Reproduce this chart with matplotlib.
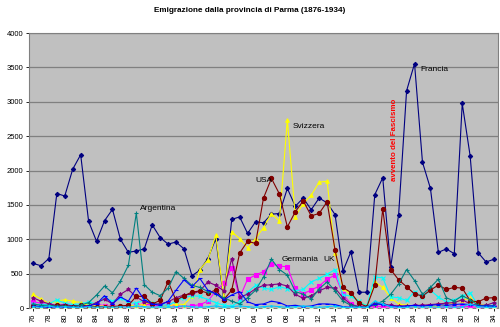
import matplotlib
matplotlib.use("Agg")
import matplotlib.pyplot as plt
import numpy as np

plt.rcParams['font.family'] = ['Liberation Sans', 'DejaVu Sans']

years = list(range(1876, 1935))

francia = [650, 615, 720, 1665, 1630, 2020, 2230, 1260, 970, 1270, 1435, 1000, 810, 830, 860,
           1210, 1025, 930, 960, 860, 470, 550, 720, 1010, 120, 1290, 1325, 1085, 1255, 1240,
           1365, 1375, 1740, 1480, 1600, 1430, 1600, 1530, 1360, 540, 820, 230, 230, 1650, 1895,
           600, 1360, 3160, 3555, 2120, 1740, 810, 860, 790, 2975, 2210, 805, 670, 710]
germania = [90, 70, 40, 30, 50, 30, 40, 20, 60, 30, 30, 20, 30, 40, 60,
            40, 30, 40, 30, 20, 30, 50, 100, 250, 360, 580, 150, 420, 480, 530,
            640, 610, 600, 290, 210, 260, 320, 420, 480, 200, 60, 20, 10, 30, 20,
            20, 10, 10, 20, 20, 30, 10, 20, 20, 30, 20, 10, 10, 10]
svizzera = [200, 130, 70, 100, 120, 100, 80, 40, 30, 30, 20, 30, 40, 30, 60,
            80, 40, 20, 60, 50, 170, 560, 700, 1060, 160, 1110, 1010, 880, 1010, 1170,
            1375, 1265, 2740, 1330, 1520, 1640, 1830, 1845, 800, 290, 190, 100, 30, 380, 300,
            150, 60, 40, 30, 40, 20, 30, 60, 80, 120, 140, 50, 40, 30]
uk = [60, 40, 60, 120, 70, 50, 60, 90, 60, 140, 100, 150, 80, 70, 120,
      80, 50, 40, 100, 150, 180, 170, 120, 80, 40, 30, 100, 230, 330, 290,
      270, 310, 280, 250, 270, 380, 430, 490, 560, 190, 175, 100, 30, 450, 440,
      160, 150, 110, 240, 160, 260, 160, 90, 120, 170, 220, 40, 30, 40]
belgio = [150, 100, 60, 40, 50, 30, 40, 30, 80, 130, 60, 200, 270, 160, 90,
          60, 60, 90, 150, 190, 200, 250, 380, 330, 250, 720, 160, 200, 280, 330,
          340, 350, 320, 200, 140, 180, 250, 300, 290, 150, 50, 20, 10, 80, 60,
          40, 30, 30, 40, 40, 50, 60, 70, 80, 120, 60, 40, 40, 80]
usa = [30, 20, 20, 40, 30, 20, 40, 20, 20, 20, 20, 30, 40, 170, 170,
       60, 110, 385, 110, 180, 230, 250, 220, 260, 120, 260, 800, 970, 940, 1600,
       1885, 1660, 1180, 1400, 1560, 1340, 1376, 1545, 843, 300, 225, 70, 20, 335, 1440,
       560, 410, 310, 205, 175, 260, 335, 270, 300, 290, 105, 90, 145, 150]
argentina = [60, 40, 40, 30, 30, 20, 40, 80, 190, 320, 220, 390, 620, 1380, 340,
             230, 180, 290, 530, 430, 330, 300, 240, 210, 150, 100, 60, 150, 260, 450,
             710, 560, 480, 240, 200, 130, 280, 380, 250, 100, 40, 20, 10, 50, 100,
             200, 350, 560, 400, 200, 300, 420, 150, 100, 180, 120, 40, 30, 30]
brasile = [30, 20, 10, 20, 10, 10, 10, 30, 60, 180, 60, 160, 100, 290, 120,
           60, 40, 100, 260, 410, 310, 430, 260, 210, 120, 190, 240, 90, 50, 60,
           100, 80, 30, 40, 20, 30, 60, 60, 50, 20, 10, 10, 10, 60, 50,
           30, 20, 30, 40, 30, 40, 50, 40, 50, 60, 50, 30, 30, 30]
altri1 = [20, 10, 30, 10, 20, 10, 10, 20, 10, 20, 10, 20, 10, 30, 20,
          10, 20, 10, 20, 30, 20, 10, 20, 30, 10, 20, 30, 20, 10, 20,
          30, 20, 10, 20, 30, 20, 10, 20, 30, 10, 10, 10, 10, 100, 60,
          20, 10, 10, 20, 10, 20, 10, 20, 10, 20, 60, 20, 10, 10]
altri2 = [5, 5, 5, 5, 5, 5, 5, 5, 5, 5, 5, 5, 5, 5, 5,
          5, 5, 5, 5, 5, 5, 5, 5, 5, 5, 5, 5, 5, 5, 5,
          5, 5, 5, 5, 5, 5, 5, 5, 5, 5, 5, 5, 5, 5, 5,
          5, 5, 5, 5, 5, 5, 5, 5, 5, 5, 5, 5, 5, 5]

series = [
    (francia, '#000080', 'D', 2.2),
    (germania, '#FF00FF', 's', 2.6),
    (svizzera, '#FFFF00', '^', 2.6),
    (uk, '#00FFFF', 'x', 2.6),
    (belgio, '#800080', '*', 2.8),
    (usa, '#800000', 'o', 3.0),
    (argentina, '#008080', '+', 2.6),
    (brasile, '#0000FF', '_', 2.6),
    (altri1, '#00CCFF', '.', 2.0),
    (altri2, '#CCFFCC', '_', 3.0),
]

tick_years = list(range(1876, 1935, 2))
tick_labels = ['%02d' % (y % 100) for y in tick_years]

fig = plt.figure(figsize=(5.0, 3.27), dpi=100)
ax = fig.add_axes([0.058, 0.058, 0.938, 0.841])
ax.set_facecolor('#C0C0C0')

for vals, col, mk, ms in series:
    ax.plot(years, vals, color=col, lw=0.8, marker=mk, markersize=ms,
            markeredgewidth=0.8, zorder=3)

ax.set_xlim(1875.5, 1934.5)
ax.set_ylim(0, 4000)
ax.set_yticks(range(0, 4001, 500))
ax.set_xticks(tick_years)
ax.set_xticklabels(tick_labels, rotation=90)
ax.tick_params(axis='both', labelsize=5.5, length=2, width=0.6, colors='#000000', pad=2)
ax.yaxis.grid(True, color='#808080', lw=0.9, zorder=1)
ax.set_axisbelow(True)
for s in ['top', 'right', 'left', 'bottom']:
    ax.spines[s].set_color('#808080')
    ax.spines[s].set_linewidth(0.8)

fig.text(0.5, 0.968, 'Emigrazione dalla provincia di Parma (1876-1934)',
         ha='center', va='center', fontsize=5.9, fontweight='bold')

lab = dict(fontsize=6, color='#000000', va='center', ha='left', zorder=5)
ax.text(1889.4, 1450, 'Argentina', **lab)
ax.text(1904.0, 1850, 'USA', **lab)
ax.text(1908.7, 2645, 'Svizzera', **lab)
ax.text(1924.7, 3473, 'Francia', **lab)
ax.text(1907.3, 708, 'Germania', **lab)
ax.text(1912.5, 708, 'UK', **lab)
ax.text(1921.5, 2440, 'avvento del Fascismo', rotation=90, fontsize=5.7,
        fontweight='bold', color='#FF0000', ha='center', va='center', zorder=5)

fig.savefig('out.png', dpi=100)
